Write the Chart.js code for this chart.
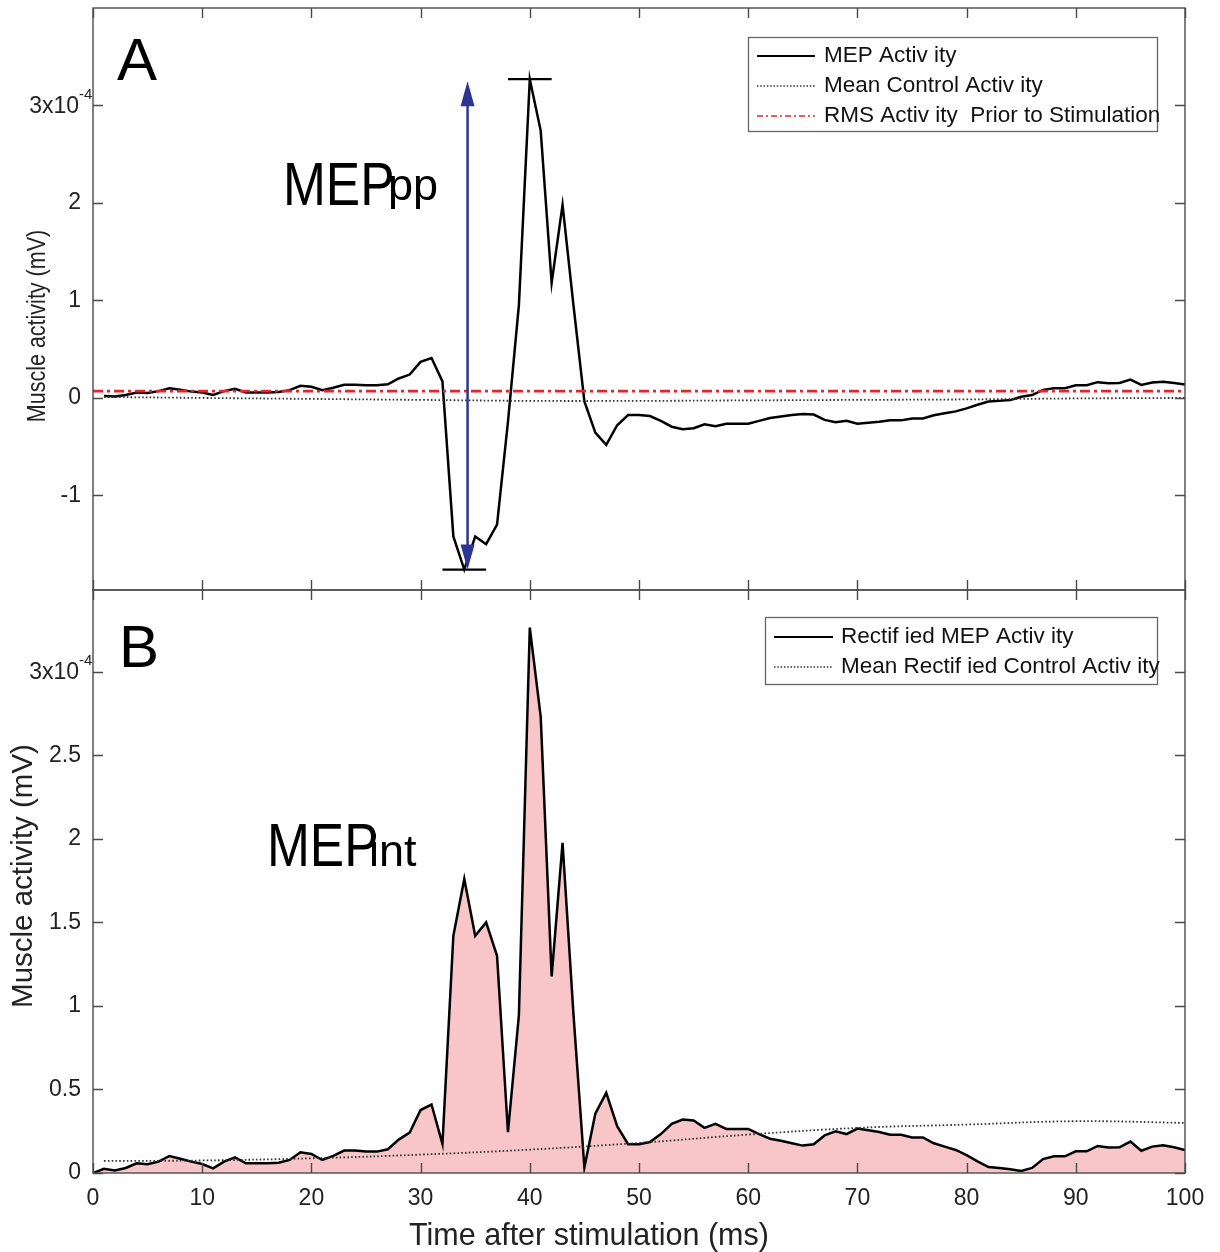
<!DOCTYPE html>
<html>
<head>
<meta charset="utf-8">
<script src="https://cdn.jsdelivr.net/npm/chart.js@4.4.0/dist/chart.umd.min.js"></script>
<style>
  body { margin: 0; background: #fff; }
  #wrap { position: relative; width: 1220px; height: 1252px; }
  canvas { position: absolute; left: 0; }
  #chartA { top: 0; }
  #chartB { top: 580px; }
</style>
</head>
<body>
<div id="wrap">
  <canvas id="chartA" width="1220" height="592" style="width:1220px;height:592px"></canvas>
  <canvas id="chartB" width="1220" height="672" style="width:1220px;height:672px"></canvas>
</div>
<script>
// time after stimulation (ms)
const timeMs = [0,1,2,3,4,5,6,7,8,9,10,11,12,13,14,15,16,17,18,19,20,21,22,23,24,25,26,27,28,29,30,
  31,32,33,34,35,36,37,38,39,40,41,42,43,44,45,46,47,48,49,50,51,52,53,54,55,56,57,58,59,60,
  61,62,63,64,65,66,67,68,69,70,71,72,73,74,75,76,77,78,79,80,81,82,83,84,85,86,87,88,89,90,
  91,92,93,94,95,96,97,98,99,100];

// panel A: MEP activity (x1e-4 mV)
const mepActivity = [null,0.02,0.015,0.03,0.055,0.05,0.07,0.10,0.085,0.065,0.055,0.03,0.07,0.093,0.057,0.057,0.057,0.06,0.08,0.125,
  0.115,0.08,0.104,0.135,0.135,0.13,0.13,0.14,0.20,0.24,0.37,0.41,0.17,-1.42,-1.76,-1.42,-1.50,-1.30,-0.245,0.95,
  3.27,2.74,1.18,1.98,0.95,-0.035,-0.355,-0.48,-0.28,-0.175,-0.175,-0.185,-0.235,-0.295,-0.32,-0.31,-0.27,-0.29,-0.265,-0.265,
  -0.265,-0.235,-0.205,-0.19,-0.175,-0.165,-0.17,-0.225,-0.25,-0.235,-0.265,-0.255,-0.245,-0.23,-0.23,-0.21,-0.21,-0.178,-0.158,-0.138,
  -0.107,-0.07,-0.036,-0.03,-0.022,0.012,0.03,0.083,0.10,0.10,0.13,0.13,0.162,0.152,0.154,0.188,0.133,0.158,0.166,0.154,0.138];

// panel B: rectified MEP activity (x1e-4 mV)
const rectifiedMep = [0.0,0.025,0.015,0.03,0.058,0.052,0.068,0.102,0.085,0.068,0.054,0.028,0.068,0.094,0.058,0.058,0.058,0.061,0.078,0.124,
  0.114,0.078,0.102,0.134,0.134,0.128,0.128,0.142,0.20,0.242,0.377,0.41,0.174,1.42,1.76,1.42,1.50,1.30,0.244,0.944,
  3.265,2.73,1.177,1.976,0.95,0.033,0.355,0.48,0.28,0.172,0.172,0.185,0.233,0.294,0.32,0.314,0.27,0.294,0.264,0.264,
  0.264,0.233,0.205,0.193,0.178,0.164,0.172,0.225,0.25,0.233,0.266,0.256,0.245,0.229,0.229,0.213,0.213,0.178,0.158,0.138,
  0.107,0.07,0.036,0.03,0.022,0.012,0.03,0.083,0.10,0.10,0.13,0.13,0.162,0.152,0.154,0.188,0.133,0.158,0.166,0.154,0.138];

// mean control curves, read every 10 ms
const controlMs = [1,10,20,30,40,50,60,70,80,90,100];
const meanControl = [0.01,0.0,-0.01,-0.02,-0.03,-0.03,-0.025,-0.02,-0.015,-0.005,0.0];
const meanRectControl = [0.072,0.075,0.088,0.11,0.14,0.18,0.23,0.27,0.29,0.31,0.30];

// RMS prior to stimulation
const rmsMs = [0,100];
const rmsLevel = [0.07,0.07];

// peak-to-peak arrow position (ms)
const arrowMs = 34.3;

// ticks
const xTicks = [0,10,20,30,40,50,60,70,80,90,100];
const yTicksA = [-1,0,1,2,3];
const yTicksB = [0,0.5,1,1.5,2,2.5,3];

const FONT = "'Liberation Sans', Arial, Helvetica, sans-serif";
Chart.defaults.font.family = FONT;
Chart.defaults.color = '#222';

const pts = (xs, ys) => xs.map((x, i) => ({x: x, y: ys[i]}));

const setTicks = vals => scale => { scale.ticks = vals.map(v => ({value: v})); };

// frame, inside ticks on all sides, 3x10^-4 label, legend, texts
const matlabAxes = {
  id: 'matlabAxes',
  afterDraw(chart) {
    const o = chart.options.plugins.matlabAxes;
    const {ctx, chartArea: a, scales: {x, y}} = chart;
    ctx.save();
    ctx.strokeStyle = '#4a4a4a';
    ctx.lineWidth = 1.4;
    ctx.strokeRect(a.left, a.top, a.right - a.left, a.bottom - a.top);
    ctx.beginPath();
    x.ticks.forEach(t => {
      const px = Math.round(x.getPixelForValue(t.value)) + 0.5;
      ctx.moveTo(px, a.bottom); ctx.lineTo(px, a.bottom - 10);
      ctx.moveTo(px, a.top); ctx.lineTo(px, a.top + 10);
    });
    y.ticks.forEach(t => {
      const py = Math.round(y.getPixelForValue(t.value)) + 0.5;
      ctx.moveTo(a.left, py); ctx.lineTo(a.left + 10, py);
      ctx.moveTo(a.right, py); ctx.lineTo(a.right - 10, py);
    });
    ctx.stroke();

    // exponent label on the top tick
    ctx.fillStyle = '#222';
    const p3 = y.getPixelForValue(3);
    ctx.font = '23px ' + FONT;
    ctx.textAlign = 'right';
    ctx.textBaseline = 'middle';
    ctx.fillText('3x10', 79, p3 + 1);
    ctx.font = '15px ' + FONT;
    ctx.textAlign = 'left';
    ctx.fillText('-4', 79, p3 - 11);

    // y title
    ctx.save();
    ctx.translate(o.yTitleX, o.yTitleY);
    ctx.rotate(-Math.PI / 2);
    ctx.scale(o.yTitleSqueeze, 1);
    ctx.font = o.yTitleSize + 'px ' + FONT;
    ctx.textAlign = 'center';
    ctx.fillText('Muscle activity (mV)', 0, 0);
    ctx.restore();

    // panel letter
    ctx.textBaseline = 'alphabetic';
    ctx.textAlign = 'left';
    ctx.font = '60px ' + FONT;
    ctx.fillStyle = '#000';
    ctx.fillText(o.letter, o.letterX, o.letterY);

    // MEP label with subscript
    ctx.save();
    ctx.translate(o.mepX, o.mepY);
    ctx.scale(0.83, 1);
    ctx.font = '62px ' + FONT;
    ctx.fillText('MEP', 0, 0);
    ctx.restore();
    ctx.font = '45px ' + FONT;
    ctx.fillText(o.sub, o.subX, o.subY);

    // legend
    const L = o.legend;
    ctx.fillStyle = '#fff';
    ctx.fillRect(L.x, L.y, L.w, L.h);
    ctx.strokeStyle = '#666';
    ctx.lineWidth = 1.3;
    ctx.strokeRect(L.x + 0.5, L.y + 0.5, L.w, L.h);
    ctx.font = '22.5px ' + FONT;
    ctx.textBaseline = 'middle';
    L.items.forEach((it, i) => {
      const ds = chart.data.datasets[it.ds];
      const ly = L.y + L.first + i * 30;
      ctx.beginPath();
      ctx.setLineDash(it.dash);
      ctx.strokeStyle = ds.borderColor;
      ctx.lineWidth = it.width;
      ctx.moveTo(L.x + L.s0, ly);
      ctx.lineTo(L.x + L.s1, ly);
      ctx.stroke();
      ctx.setLineDash([]);
      ctx.fillStyle = '#111';
      ctx.fillText(it.text, L.x + L.tx, ly);
    });
    ctx.restore();
  }
};

// arrow and caps for peak-to-peak
const ppArrow = {
  id: 'ppArrow',
  afterDatasetsDraw(chart) {
    const {ctx, scales: {x, y}} = chart;
    const vals = mepActivity.filter(v => v !== null);
    const hi = Math.max(...vals), lo = Math.min(...vals);
    const tHi = timeMs[mepActivity.indexOf(hi)], tLo = timeMs[mepActivity.indexOf(lo)];
    ctx.save();
    ctx.strokeStyle = '#000';
    ctx.lineWidth = 2.2;
    ctx.beginPath();
    ctx.moveTo(x.getPixelForValue(tHi - 2), y.getPixelForValue(hi));
    ctx.lineTo(x.getPixelForValue(tHi + 2), y.getPixelForValue(hi));
    ctx.moveTo(x.getPixelForValue(tLo - 2), y.getPixelForValue(lo));
    ctx.lineTo(x.getPixelForValue(tLo + 2), y.getPixelForValue(lo));
    ctx.stroke();

    const ax = x.getPixelForValue(arrowMs);
    const yt = y.getPixelForValue(hi) + 2, yb = y.getPixelForValue(lo);
    ctx.strokeStyle = '#2d3593';
    ctx.fillStyle = '#2d3593';
    ctx.lineWidth = 2.5;
    ctx.beginPath();
    ctx.moveTo(ax, yt + 20);
    ctx.lineTo(ax, yb - 20);
    ctx.stroke();
    ctx.beginPath();
    ctx.moveTo(ax, yt); ctx.lineTo(ax - 7, yt + 25); ctx.lineTo(ax + 7, yt + 25); ctx.closePath();
    ctx.moveTo(ax, yb); ctx.lineTo(ax - 7, yb - 25); ctx.lineTo(ax + 7, yb - 25); ctx.closePath();
    ctx.fill();
    ctx.restore();
  }
};

const xTitle = {
  id: 'xTitle',
  afterDraw(chart) {
    const {ctx} = chart;
    ctx.save();
    ctx.fillStyle = '#222';
    ctx.font = '30.5px ' + FONT;
    ctx.textAlign = 'center';
    ctx.textBaseline = 'alphabetic';
    ctx.fillText('Time after stimulation (ms)', 589, 665);
    ctx.restore();
  }
};

const baseX = (showLabels, h) => ({
  type: 'linear', min: 0, max: 100,
  afterBuildTicks: setTicks(xTicks),
  grid: {display: false, drawTicks: false, tickLength: 0}, border: {display: false},
  ticks: {display: showLabels, font: {size: 23}, color: '#222', padding: 12, maxRotation: 0, autoSkip: false},
  afterFit: s => { s.height = h; s.paddingLeft = 0; s.paddingRight = 0; }
});

const baseY = (min, max, ticks) => ({
  type: 'linear', min: min, max: max,
  afterBuildTicks: setTicks(ticks),
  grid: {display: false, drawTicks: false, tickLength: 0}, border: {display: false},
  ticks: {font: {size: 23}, color: '#222', padding: 12, callback: v => v === 3 ? '' : String(v)},
  afterFit: s => { s.width = 93; s.paddingTop = 0; s.paddingBottom = 0; }
});

new Chart(document.getElementById('chartA').getContext('2d'), {
  type: 'line',
  data: {
    datasets: [
      {label: 'MEP Activity', data: pts(timeMs, mepActivity), borderColor: '#000', borderWidth: 2.5,
        pointRadius: 0, tension: 0, order: 3},
      {label: 'Mean Control Activity', data: pts(controlMs, meanControl), borderColor: '#333', borderWidth: 1.8,
        borderDash: [1.6, 2.2], pointRadius: 0, tension: 0.4, order: 2},
      {label: 'RMS Activity Prior to Stimulation', data: pts(rmsMs, rmsLevel), borderColor: '#e3262d', borderWidth: 2.6,
        borderDash: [10, 4, 3, 4], pointRadius: 0, order: 1}
    ]
  },
  options: {
    responsive: false, animation: false, devicePixelRatio: 1,
    layout: {padding: {left: 0, right: 35, top: 8, bottom: 2}},
    scales: {x: baseX(false, 0), y: baseY(-1.97, 4.0, yTicksA)},
    plugins: {
      legend: {display: false}, tooltip: {enabled: false},
      matlabAxes: {
        yTitleX: 38, yTitleY: 326, yTitleSize: 25, yTitleSqueeze: 0.86,
        letter: 'A', letterX: 117, letterY: 80,
        mepX: 283, mepY: 205, sub: 'pp', subX: 388, subY: 200,
        legend: {x: 748, y: 37, w: 409, h: 94, first: 19, s0: 9, s1: 67, tx: 76,
          items: [
            {ds: 0, text: 'MEP Activ ity', dash: [], width: 2},
            {ds: 1, text: 'Mean Control Activ ity', dash: [1.5, 1.8], width: 1.3},
            {ds: 2, text: 'RMS Activ ity  Prior to Stimulation', dash: [6, 3, 2, 3], width: 1.5}
          ]}
      }
    }
  },
  plugins: [ppArrow, matlabAxes]
});

new Chart(document.getElementById('chartB').getContext('2d'), {
  type: 'line',
  data: {
    datasets: [
      {label: 'Rectified MEP Activity', data: pts(timeMs, rectifiedMep), borderColor: '#000', borderWidth: 2.5,
        backgroundColor: '#f8c6c9', fill: 'origin', pointRadius: 0, tension: 0, order: 2},
      {label: 'Mean Rectified Control Activity', data: pts(controlMs, meanRectControl), borderColor: '#333', borderWidth: 1.8,
        borderDash: [1.6, 2.2], pointRadius: 0, tension: 0.4, order: 1}
    ]
  },
  options: {
    responsive: false, animation: false, devicePixelRatio: 1,
    layout: {padding: {left: 0, right: 35, top: 10, bottom: 0}},
    scales: {x: baseX(true, 79), y: baseY(0, 3.49, yTicksB)},
    plugins: {
      legend: {display: false}, tooltip: {enabled: false},
      matlabAxes: {
        yTitleX: 24, yTitleY: 296, yTitleSize: 29.5, yTitleSqueeze: 1,
        letter: 'B', letterX: 119, letterY: 87,
        mepX: 267, mepY: 286, sub: 'int', subX: 369, subY: 286,
        legend: {x: 765, y: 37, w: 392, h: 67, first: 20, s0: 9, s1: 68, tx: 76,
          items: [
            {ds: 0, text: 'Rectif ied MEP Activ ity', dash: [], width: 2},
            {ds: 1, text: 'Mean Rectif ied Control Activ ity', dash: [1.5, 1.8], width: 1.3}
          ]}
      }
    }
  },
  plugins: [matlabAxes, xTitle]
});
</script>
</body>
</html>
